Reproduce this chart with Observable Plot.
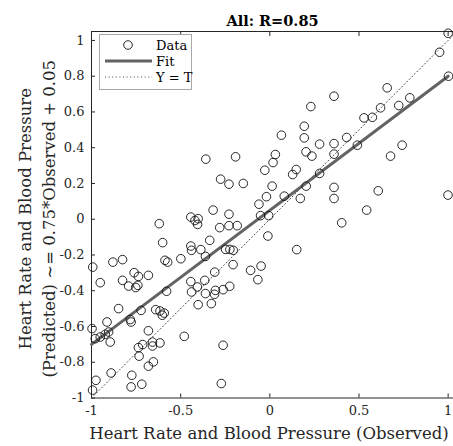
<!DOCTYPE html>
<html><head><meta charset="utf-8">
<script src="https://cdn.jsdelivr.net/npm/d3@7"></script>
<script src="https://cdn.jsdelivr.net/npm/@observablehq/plot@0.6"></script>
<style>body{margin:0;background:#fff} #chart{width:453px;height:446px;overflow:hidden}</style>
</head><body><div id="chart"></div>
<script>
const titleText = "All: R=0.85";
const xLabelText = "Heart Rate and Blood Pressure (Observed)";
const yLabelText = "Heart Rate and Blood Pressure\n(Predicted) ~= 0.75*Observed + 0.05";
const legendLabels = ["Data", "Fit", "Y = T"];

const xDomain = [-1, 1.03];
const yDomain = [-1, 1.05];
const xTicks = [-1, -0.5, 0, 0.5, 1];
const yTicks = [-1, -0.8, -0.6, -0.4, -0.2, 0, 0.2, 0.4, 0.6, 0.8, 1];

const fitSlope = 0.75;
const fitIntercept = 0.05;
const fitRange = [-1, 1];
const identityRange = [-1, 1.03];

const observed = [
  1.0, 0.952, 1.002, 0.658, 0.36, 0.23, 0.785, 0.723, 0.621, 0.528,
  0.575, 0.431, 0.491, 0.36, 0.36, 0.742, 0.677, 0.36, 0.36, 0.608,
  0.999, 0.543, 0.193, 0.193, 0.279, 0.065, 0.203, 0.236, 0.031, 0.018,
  -0.028, 0.148, 0.128, 0.279, -0.192, -0.359, -0.276, -0.229, -0.149, 0.013,
  0.204, -0.019, 0.081, 0.171, -0.061, -0.318, -0.229, -0.052, -0.006, 0.403,
  -0.62, -0.443, -0.42, -0.402, -0.405, -0.281, -0.229, -0.183, -0.011, 0.151,
  -0.601, -0.443, -0.439, -0.387, -0.337, -0.361, -0.248, -0.224, -0.205, -0.206,
  -0.309, -0.108, -0.049, -0.067, -0.993, -0.951, -0.88, -0.826, -0.826, -0.792,
  -0.761, -0.737, -0.752, -0.74, -0.681, -0.588, -0.573, -0.579, -0.499, -0.443,
  -0.406, -0.365, -0.439, -0.402, -0.361, -0.328, -0.305, -0.262, -0.225, -0.31,
  -0.848, -0.722, -0.64, -0.616, -0.603, -0.592, -0.783, -0.778, -0.913, -0.997,
  -0.681, -0.48, -0.979, -0.951, -0.923, -0.904, -0.895, -0.737, -0.713, -0.658,
  -0.658, -0.616, -0.733, -0.653, -0.681, -0.262, -0.89, -0.975, -0.774, -0.778,
  -0.718, -0.272, -0.994
];
const predicted = [
  1.04, 0.934, 0.80, 0.735, 0.688, 0.63, 0.679, 0.636, 0.623, 0.567,
  0.57, 0.457, 0.414, 0.423, 0.364, 0.414, 0.353, 0.178, 0.116, 0.159,
  0.135, 0.051, 0.52, 0.455, 0.42, 0.47, 0.377, 0.353, 0.362, 0.317,
  0.274, 0.278, 0.25, 0.256, 0.349, 0.336, 0.224, 0.196, 0.2, 0.185,
  0.185, 0.126, 0.129, 0.116, 0.084, 0.051, 0.028, 0.02, 0.02, -0.02,
  -0.025, 0.012, -0.007, 0.003, -0.029, -0.047, -0.036, -0.036, -0.094, -0.17,
  -0.131, -0.15, -0.174, -0.17, -0.118, -0.208, -0.169, -0.169, -0.174, -0.254,
  -0.296, -0.286, -0.262, -0.338, -0.268, -0.355, -0.24, -0.226, -0.342, -0.374,
  -0.299, -0.32, -0.382, -0.37, -0.314, -0.23, -0.24, -0.403, -0.221, -0.349,
  -0.379, -0.342, -0.407, -0.478, -0.416, -0.472, -0.398, -0.394, -0.375, -0.42,
  -0.5, -0.51, -0.506, -0.513, -0.537, -0.525, -0.561, -0.575, -0.575, -0.612,
  -0.624, -0.655, -0.668, -0.659, -0.644, -0.631, -0.687, -0.718, -0.701, -0.687,
  -0.709, -0.692, -0.766, -0.798, -0.822, -0.705, -0.86, -0.901, -0.873, -0.938,
  -0.923, -0.919, -0.956
];

const points = observed.map((x, i) => ({x, y: predicted[i]}));
const fitLine = fitRange.map(x => ({x, y: fitSlope * x + fitIntercept}));
const identity = identityRange.map(x => ({x, y: x}));

const font = "DejaVu Serif";
const fmt = d => String(Math.round(d * 10) / 10);
const ink = "#262626";

const chart = Plot.plot({
  width: 453, height: 446,
  marginLeft: 91, marginRight: 0, marginTop: 31, marginBottom: 48.5,
  style: {fontFamily: font, fontSize: "13px", color: ink, background: "#fff", overflow: "visible"},
  x: {domain: xDomain, label: null},
  y: {domain: yDomain, label: null},
  marks: [
    Plot.ruleX([xDomain[0]], {stroke: ink, strokeWidth: 1}),
    Plot.ruleY(yDomain, {stroke: ink, strokeWidth: 1}),
    Plot.axisX(xTicks, {anchor: "bottom", tickSize: -4, tickPadding: 12, tickFormat: fmt, label: null, fill: ink}),
    Plot.axisX(xTicks, {anchor: "top", tickSize: -4, tickFormat: () => "", label: null}),
    Plot.axisY(yTicks, {anchor: "left", tickSize: -4, tickPadding: 11, tickFormat: fmt, label: null, fill: ink}),
    Plot.line(identity, {x: "x", y: "y", stroke: "#444", strokeWidth: 1, strokeDasharray: "1 2.6"}),
    Plot.line(fitLine, {x: "x", y: "y", stroke: "#636363", strokeWidth: 3}),
    Plot.dot(points, {x: "x", y: "y", r: 4.3, stroke: "#111", strokeWidth: 0.9, fill: "none"}),
    Plot.text([titleText], {text: d => d, frameAnchor: "top", lineAnchor: "middle", dy: -10, fontWeight: "bold", fontSize: 14.5, fill: "#000"}),
    Plot.text([xLabelText], {text: d => d, frameAnchor: "bottom", lineAnchor: "middle", dy: 36, dx: -3.5, fontSize: 16.5, fill: ink}),
    Plot.text([yLabelText], {text: d => d, frameAnchor: "left", rotate: -90, dx: -56, dy: 4, lineAnchor: "middle", textAnchor: "middle", lineHeight: 1.45, fontSize: 16.5, fill: ink})
  ]
});

// legend box (drawn into the plot's SVG)
const svg = d3.select(chart);
const lg = svg.append("g").attr("font-family", font).attr("font-size", 13).attr("fill", "#000");
lg.append("rect").attr("x", 99.5).attr("y", 34.5).attr("width", 92).attr("height", 55)
  .attr("fill", "#fff").attr("stroke", "#a8a8a8").attr("stroke-width", 1);
lg.append("circle").attr("cx", 128).attr("cy", 45).attr("r", 4.3)
  .attr("fill", "none").attr("stroke", "#111").attr("stroke-width", 0.9);
lg.append("line").attr("x1", 105).attr("x2", 152).attr("y1", 61).attr("y2", 61)
  .attr("stroke", "#636363").attr("stroke-width", 3);
lg.append("line").attr("x1", 105).attr("x2", 152).attr("y1", 77).attr("y2", 77)
  .attr("stroke", "#444").attr("stroke-width", 1).attr("stroke-dasharray", "1 2.6");
lg.selectAll("text.lab").data(legendLabels).join("text").attr("class", "lab")
  .attr("text-anchor", "start")
  .attr("x", 156).attr("y", (d, i) => 50 + i * 16).text(d => d);

document.getElementById("chart").appendChild(chart);
</script>
</body></html>
